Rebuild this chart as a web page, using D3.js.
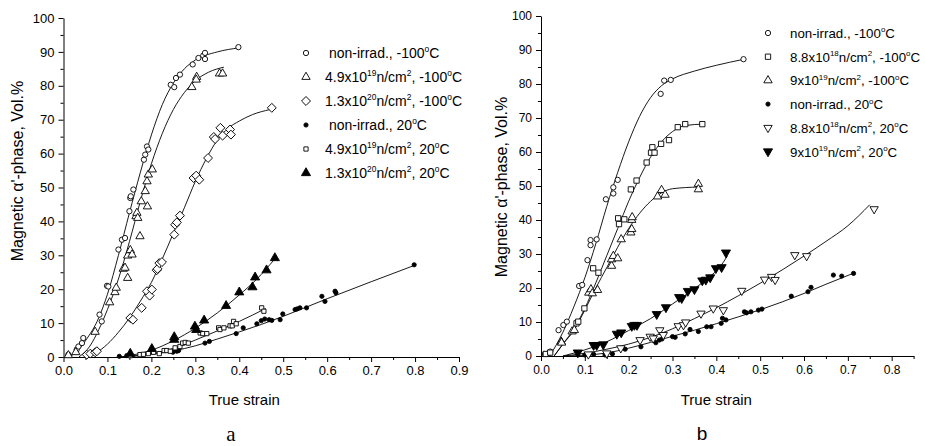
<!DOCTYPE html>
<html>
<head>
<meta charset="utf-8">
<script src="https://cdn.jsdelivr.net/npm/d3@7/dist/d3.min.js"></script>
<style>
  body { margin: 0; background: #fff; }
  svg { display: block; font-family: "Liberation Sans", Arial, sans-serif; }
</style>
</head>
<body>
<script>
// ---- panel a : measured points (true strain, vol.%) ----
const aNonIrrCold = [[0.011,0.7],[0.03,2.2],[0.034,3.1],[0.042,4.1],[0.045,5.6],[0.082,12.5],[0.087,10.5],[0.099,21],[0.102,20.8],[0.125,31.7],[0.133,34.6],[0.14,35.1],[0.15,43],[0.152,46.9],[0.153,47.4],[0.159,49.4],[0.183,58.2],[0.186,59.7],[0.19,62.1],[0.193,61.2],[0.244,80.3],[0.252,79.6],[0.256,82.3],[0.265,83.3],[0.294,86.3],[0.307,88.2],[0.318,88.9],[0.322,89.7],[0.322,87.9],[0.398,91.4]];
const aMidCold = [[0.011,0.5],[0.028,1.4],[0.072,7.4],[0.105,16.1],[0.117,19.1],[0.12,20.4],[0.136,26],[0.14,26.3],[0.146,23.3],[0.146,29.9],[0.152,31.5],[0.156,30.2],[0.165,41.5],[0.167,42.5],[0.169,41],[0.174,35.6],[0.177,45.9],[0.186,48.9],[0.19,51.8],[0.191,44.4],[0.193,53.8],[0.202,55.3],[0.292,79.6],[0.303,82.6],[0.302,81.8],[0.355,83.6],[0.362,83.6]];
const aHighCold = [[0.053,0.7],[0.061,1],[0.072,1.4],[0.076,1.7],[0.152,11.5],[0.158,11],[0.178,14.5],[0.19,19.4],[0.196,18.1],[0.201,19.9],[0.212,25.6],[0.214,26],[0.218,27.7],[0.224,28],[0.252,36.1],[0.254,39],[0.258,39.7],[0.265,41.7],[0.296,52.8],[0.302,53.5],[0.309,52.3],[0.329,58.7],[0.342,64.9],[0.345,64.3],[0.357,67.6],[0.362,65.3],[0.379,67.1],[0.381,65.6],[0.474,73.5]];
const aNonIrrWarm = [[0.127,0.2],[0.144,0.4],[0.152,0.6],[0.249,1.4],[0.258,1.7],[0.262,1.9],[0.322,4.1],[0.332,4.6],[0.393,6.9],[0.409,8.6],[0.44,9.8],[0.45,10.7],[0.458,11.2],[0.468,11],[0.474,10.8],[0.493,11],[0.499,12.7],[0.527,14],[0.532,14.2],[0.538,14.5],[0.553,14.5],[0.588,17.9],[0.595,16.4],[0.618,19.4],[0.62,18.9],[0.798,27.2]];
const aMidWarm = [[0.152,0.4],[0.174,0.7],[0.182,0.8],[0.193,1],[0.205,1.4],[0.218,1],[0.229,1.9],[0.235,1.9],[0.243,1.7],[0.254,2.7],[0.265,3.1],[0.271,4.1],[0.277,4.3],[0.284,4.1],[0.311,7.1],[0.317,6.9],[0.326,6.9],[0.353,8.6],[0.356,8.1],[0.365,8.6],[0.379,9.2],[0.384,9.2],[0.387,10.5],[0.393,9.8],[0.451,14.5],[0.456,13.5]];
const aHighWarm = [[0.152,1],[0.201,2.4],[0.252,5.9],[0.252,5.1],[0.299,9],[0.302,8],[0.32,10.8],[0.37,15.1],[0.4,19.1],[0.43,20.6],[0.436,23.5],[0.462,25.6],[0.481,29.2]];

// ---- panel a : fitted curves ----
const aNonIrrColdFit = [[0.01,0],[0.03,1.5],[0.05,4.8],[0.08,11.5],[0.1,18.5],[0.125,30],[0.15,42.5],[0.175,54.5],[0.2,65.5],[0.225,74.5],[0.25,80.8],[0.275,85],[0.3,87.6],[0.35,90],[0.4,91.2]];
const aMidColdFit = [[0.035,0],[0.06,3.2],[0.08,8],[0.1,14],[0.125,23],[0.15,34],[0.175,46],[0.2,57],[0.225,66],[0.25,73],[0.275,78],[0.3,81.5],[0.33,84],[0.365,85.5]];
const aHighColdFit = [[0.05,0],[0.075,1.3],[0.1,3.8],[0.125,7.3],[0.15,11.5],[0.175,16.5],[0.2,22],[0.225,29],[0.25,36.5],[0.275,44],[0.3,51.8],[0.325,58.5],[0.35,64],[0.375,67.5],[0.4,69.6],[0.43,71.5],[0.47,73]];
const aNonIrrWarmFit = [[0.13,0],[0.2,0.8],[0.25,1.8],[0.3,3.3],[0.35,5.3],[0.4,7.4],[0.45,9.6],[0.5,12],[0.6,17.2],[0.7,22.2],[0.8,27.1]];
const aMidWarmFit = [[0.14,0],[0.2,1],[0.25,2.5],[0.3,5],[0.35,7.7],[0.4,10.5],[0.46,14.3]];
const aHighWarmFit = [[0.13,0],[0.2,2],[0.25,4.8],[0.3,8.5],[0.35,13],[0.4,18.3],[0.44,23],[0.48,28.8]];

// ---- panel b : measured points ----
const bNonIrrCold = [[0.009,0.6],[0.021,1.3],[0.04,7.6],[0.051,9.1],[0.059,10.1],[0.087,20.6],[0.094,20.9],[0.106,28.2],[0.113,34.1],[0.113,32.6],[0.127,34.3],[0.148,46.1],[0.165,49.6],[0.165,47.8],[0.175,51.8],[0.273,77.1],[0.281,81],[0.296,81.2],[0.462,87.3]];
const bMidCold = [[0.011,0.6],[0.021,1],[0.081,9.6],[0.085,10.1],[0.099,14],[0.119,25.8],[0.131,24.5],[0.176,40.5],[0.178,38.8],[0.19,40.2],[0.205,49],[0.218,51.6],[0.241,56.9],[0.251,59.8],[0.254,61.4],[0.259,59.8],[0.274,62.4],[0.292,63.5],[0.312,67.3],[0.329,68.2],[0.368,68.2]];
const bHighCold = [[0.046,4.2],[0.047,3.9],[0.071,7.2],[0.076,7.6],[0.109,18.6],[0.114,19.6],[0.117,18.4],[0.129,19.4],[0.161,26.5],[0.161,28.4],[0.165,29.4],[0.175,28.7],[0.183,34.3],[0.205,36.3],[0.207,40],[0.208,40.8],[0.207,37.3],[0.266,46.9],[0.275,48.8],[0.283,47.4],[0.359,50.6],[0.359,49]];
const bNonIrrWarm = [[0.1,0.3],[0.12,0.5],[0.146,0.3],[0.163,0.6],[0.192,2],[0.228,2.7],[0.262,3.9],[0.27,4.7],[0.276,5],[0.3,5.7],[0.306,5.5],[0.329,6.5],[0.34,7.8],[0.359,7.2],[0.378,8.6],[0.388,8.6],[0.411,9.6],[0.414,11.1],[0.422,10.6],[0.464,13],[0.469,12.7],[0.479,13],[0.496,13.5],[0.504,13.8],[0.571,17.6],[0.609,18.9],[0.616,20.2],[0.667,23.8],[0.686,23.5],[0.713,24.3]];
const bMidWarm = [[0.108,0.5],[0.15,0.8],[0.182,2.3],[0.226,4.7],[0.249,5.7],[0.256,5.2],[0.271,7.6],[0.279,6.2],[0.313,8.8],[0.325,9.1],[0.33,9.9],[0.365,12.5],[0.393,14],[0.416,13.5],[0.458,19.2],[0.51,22.5],[0.526,23.3],[0.534,22.4],[0.579,29.7],[0.606,29.4],[0.76,43.2]];
const bHighWarm = [[0.084,1],[0.12,3.2],[0.127,3.2],[0.142,3.4],[0.173,6.5],[0.183,6.9],[0.207,8.8],[0.213,9.1],[0.219,9.1],[0.264,12.3],[0.285,14.3],[0.315,17.3],[0.321,17],[0.335,19.1],[0.35,19.6],[0.368,22.2],[0.376,22.4],[0.386,23.1],[0.399,25.8],[0.412,26.1],[0.422,30.4]];

// ---- panel b : fitted curves ----
const bNonIrrColdFit = [[0.02,0],[0.05,7],[0.075,14.5],[0.1,23],[0.125,33],[0.15,44],[0.175,54],[0.2,63],[0.225,70.5],[0.25,76],[0.275,79.5],[0.3,81.5],[0.35,83.8],[0.4,85.5],[0.46,87.2]];
const bMidColdFit = [[0.03,0],[0.05,3.5],[0.075,8],[0.1,14],[0.125,21.5],[0.15,29.5],[0.175,37.5],[0.2,45.5],[0.225,52.5],[0.25,58.5],[0.275,63],[0.3,66],[0.33,67.8],[0.37,68.2]];
const bHighColdFit = [[0.03,0],[0.05,3.5],[0.075,7.5],[0.1,13.5],[0.125,20],[0.15,26],[0.175,32],[0.2,37.5],[0.225,42],[0.25,45.5],[0.275,48],[0.3,49.2],[0.36,49.7]];
const bNonIrrWarmFit = [[0.06,0],[0.15,0.9],[0.2,2.3],[0.25,4],[0.3,5.8],[0.35,7.6],[0.4,9.5],[0.45,11.5],[0.5,13.6],[0.55,15.9],[0.6,18.4],[0.65,21.1],[0.71,24.2]];
const bMidWarmFit = [[0.05,0],[0.1,0.8],[0.15,2],[0.2,3.5],[0.25,5.5],[0.3,8],[0.35,11],[0.4,14.2],[0.45,17.7],[0.5,21.4],[0.55,25.3],[0.6,29.4],[0.65,33.7],[0.7,38.3],[0.75,44.5]];
const bHighWarmFit = [[0.05,0],[0.1,1.8],[0.15,4.2],[0.2,7.5],[0.25,11],[0.3,15.3],[0.35,19.8],[0.38,22.8],[0.41,26.5],[0.425,29.4]];

// ---- legend labels and ticks ----
const aLabels = [" non-irrad., -100^{o}C", "4.9x10^{19}n/cm^{2}, -100^{o}C", "1.3x10^{20}n/cm^{2}, -100^{o}C",
                 " non-irrad., 20^{o}C", "4.9x10^{19}n/cm^{2}, 20^{o}C", "1.3x10^{20}n/cm^{2}, 20^{o}C"];
const bLabels = ["non-irrad., -100^{o}C", "8.8x10^{18}n/cm^{2}, -100^{o}C", "9x10^{19}n/cm^{2}, -100^{o}C",
                 "non-irrad., 20^{o}C", "8.8x10^{18}n/cm^{2}, 20^{o}C", "9x10^{19}n/cm^{2}, 20^{o}C"];
const aXTicks = [0, 0.1, 0.2, 0.3, 0.4, 0.5, 0.6, 0.7, 0.8, 0.9];
const bXTicks = [0, 0.1, 0.2, 0.3, 0.4, 0.5, 0.6, 0.7, 0.8];
const yTicks = [0, 10, 20, 30, 40, 50, 60, 70, 80, 90, 100];
const xTitle = "True strain";
const yTitle = "Magnetic \u03b1'-phase, Vol.%";

const W = 925, H = 446;
const svg = d3.select("body").append("svg").attr("width", W).attr("height", H);

svg.append("clipPath").attr("id", "clipA")
  .append("rect").attr("x", 0).attr("y", 0).attr("width", 470).attr("height", H);

// symbol shapes: [d3 type, size(area), rotation, filled]
const shapes = {
  circle:   [d3.symbolCircle, 22, 0, false],
  triUp:    [d3.symbolTriangle, 30, 0, false],
  diamond:  [d3.symbolSquare, 40, 45, false],
  dot:      [d3.symbolCircle, 14, 0, true],
  smallSq:  [d3.symbolSquare, 18, 0, false],
  triUpF:   [d3.symbolTriangle, 36, 0, true],
  square:   [d3.symbolSquare, 28, 0, false],
  triDown:  [d3.symbolTriangle, 30, 180, false],
  triDownF: [d3.symbolTriangle, 36, 180, true]
};

function richText(sel, str, fs) {
  const parts = str.split(/\^\{([^}]*)\}/);
  let up = false;
  parts.forEach((p, i) => {
    if (p === "") { if (i % 2 === 1) up = true; return; }
    const t = sel.append("tspan").text(p);
    if (i % 2 === 1) {
      t.attr("font-size", fs * 0.6).attr("dy", -fs * 0.42);
      up = true;
    } else {
      t.attr("font-size", fs);
      if (up) { t.attr("dy", fs * 0.42); up = false; }
    }
  });
}

function drawSymbol(g, shape, x, y) {
  const s = shapes[shape];
  g.append("path")
    .attr("d", d3.symbol().type(s[0]).size(s[1])())
    .attr("transform", `translate(${x},${y}) rotate(${s[2]})`)
    .attr("fill", s[3] ? "#000" : "#fff")
    .attr("stroke", "#000")
    .attr("stroke-width", 0.9);
}

function drawPanel(p) {
  const g = svg.append("g");
  if (p.clip) g.attr("clip-path", "url(#" + p.clip + ")");

  const x = d3.scaleLinear().domain(p.xDomain).range(p.xRange);
  const y = d3.scaleLinear().domain([0, 100]).range(p.yRange);

  // minor ticks
  const xMinor = d3.range(0, p.xDomain[1] + 1e-9, 0.05).filter(v => Math.round(v * 100) % 10 !== 0);
  g.append("g").attr("transform", `translate(0,${p.yRange[0]})`)
    .call(d3.axisBottom(x).tickValues(xMinor).tickSize(3).tickFormat("").tickSizeOuter(0))
    .call(a => a.select(".domain").remove());
  g.append("g").attr("transform", `translate(${p.xRange[0]},0)`)
    .call(d3.axisLeft(y).tickValues(d3.range(5, 100, 10)).tickSize(3).tickFormat("").tickSizeOuter(0))
    .call(a => a.select(".domain").remove());

  // major axes
  const xa = g.append("g").attr("transform", `translate(0,${p.yRange[0]})`)
    .call(d3.axisBottom(x).tickValues(p.xTicks).tickFormat(d3.format(".1f")).tickSize(5).tickPadding(4).tickSizeOuter(0));
  const ya = g.append("g").attr("transform", `translate(${p.xRange[0]},0)`)
    .call(d3.axisLeft(y).tickValues(yTicks).tickFormat(d3.format("d")).tickSize(5).tickPadding(4).tickSizeOuter(0));
  [xa, ya].forEach(a => a.selectAll("text").attr("font-family", null).attr("font-size", p.tickFs).attr("fill", "#000"));
  g.selectAll(".domain, .tick line").attr("stroke", "#000").attr("stroke-width", 1);

  // fitted curves
  const line = d3.line().x(d => x(d[0])).y(d => y(d[1])).curve(d3.curveMonotoneX);
  p.series.forEach(s => {
    g.append("path").attr("d", line(s.fit)).attr("fill", "none")
      .attr("stroke", "#000").attr("stroke-width", 0.9);
  });
  // points
  p.series.forEach(s => {
    s.pts.forEach(d => drawSymbol(g, s.shape, x(d[0]), y(d[1])));
  });

  // legend
  p.series.forEach((s, i) => {
    const cy = p.legY + i * p.legStep;
    drawSymbol(g, s.shape, p.legSymX, cy);
    const t = g.append("text").attr("x", p.legTextX).attr("y", cy + 5)
      .style("white-space", "pre");
    richText(t, s.label, p.legFs);
  });

  // axis titles
  g.append("text").attr("x", (p.xRange[0] + x(0.8)) / 2 + p.xTitleDx).attr("y", p.xTitleY)
    .attr("text-anchor", "middle").attr("font-size", p.titleFs).text(xTitle);
  g.append("text").attr("transform", `translate(${p.yTitleX},${p.yTitleCy}) rotate(-90)`)
    .attr("text-anchor", "middle").attr("font-size", p.yTitleFs).text(yTitle);

  // panel letter
  g.append("text").attr("x", p.letterX).attr("y", p.letterY).attr("text-anchor", "middle")
    .attr("font-family", p.letterFont).attr("font-size", p.letterFs).text(p.letter);
}

const shapesA = ["circle", "triUp", "diamond", "dot", "smallSq", "triUpF"];
const shapesB = ["circle", "square", "triUp", "dot", "triDown", "triDownF"];
const aPts = [aNonIrrCold, aMidCold, aHighCold, aNonIrrWarm, aMidWarm, aHighWarm];
const aFits = [aNonIrrColdFit, aMidColdFit, aHighColdFit, aNonIrrWarmFit, aMidWarmFit, aHighWarmFit];
const bPts = [bNonIrrCold, bMidCold, bHighCold, bNonIrrWarm, bMidWarm, bHighWarm];
const bFits = [bNonIrrColdFit, bMidColdFit, bHighColdFit, bNonIrrWarmFit, bMidWarmFit, bHighWarmFit];

drawPanel({
  clip: "clipA",
  xDomain: [0, 0.9], xRange: [63.5, 459], yRange: [357, 18], xTicks: aXTicks,
  tickFs: 13, legFs: 14, titleFs: 15, yTitleFs: 16,
  legY: 53, legStep: 24, legSymX: 306, legTextX: 325,
  xTitleDx: 5, xTitleY: 405, yTitleX: 23, yTitleCy: 171,
  letter: "a", letterX: 231, letterY: 441, letterFont: "Liberation Serif, serif", letterFs: 21,
  series: shapesA.map((s, i) => ({shape: s, pts: aPts[i], fit: aFits[i], label: aLabels[i]}))
});
drawPanel({
  xDomain: [0, 0.85], xRange: [541, 913.6], yRange: [356, 16], xTicks: bXTicks,
  tickFs: 12, legFs: 13.3, titleFs: 15, yTitleFs: 16,
  legY: 33, legStep: 23.7, legSymX: 768, legTextX: 790,
  xTitleDx: 0, xTitleY: 405, yTitleX: 507, yTitleCy: 187,
  letter: "b", letterX: 702, letterY: 440, letterFont: "Liberation Sans, sans-serif", letterFs: 19,
  series: shapesB.map((s, i) => ({shape: s, pts: bPts[i], fit: bFits[i], label: bLabels[i]}))
});
</script>
</body>
</html>
